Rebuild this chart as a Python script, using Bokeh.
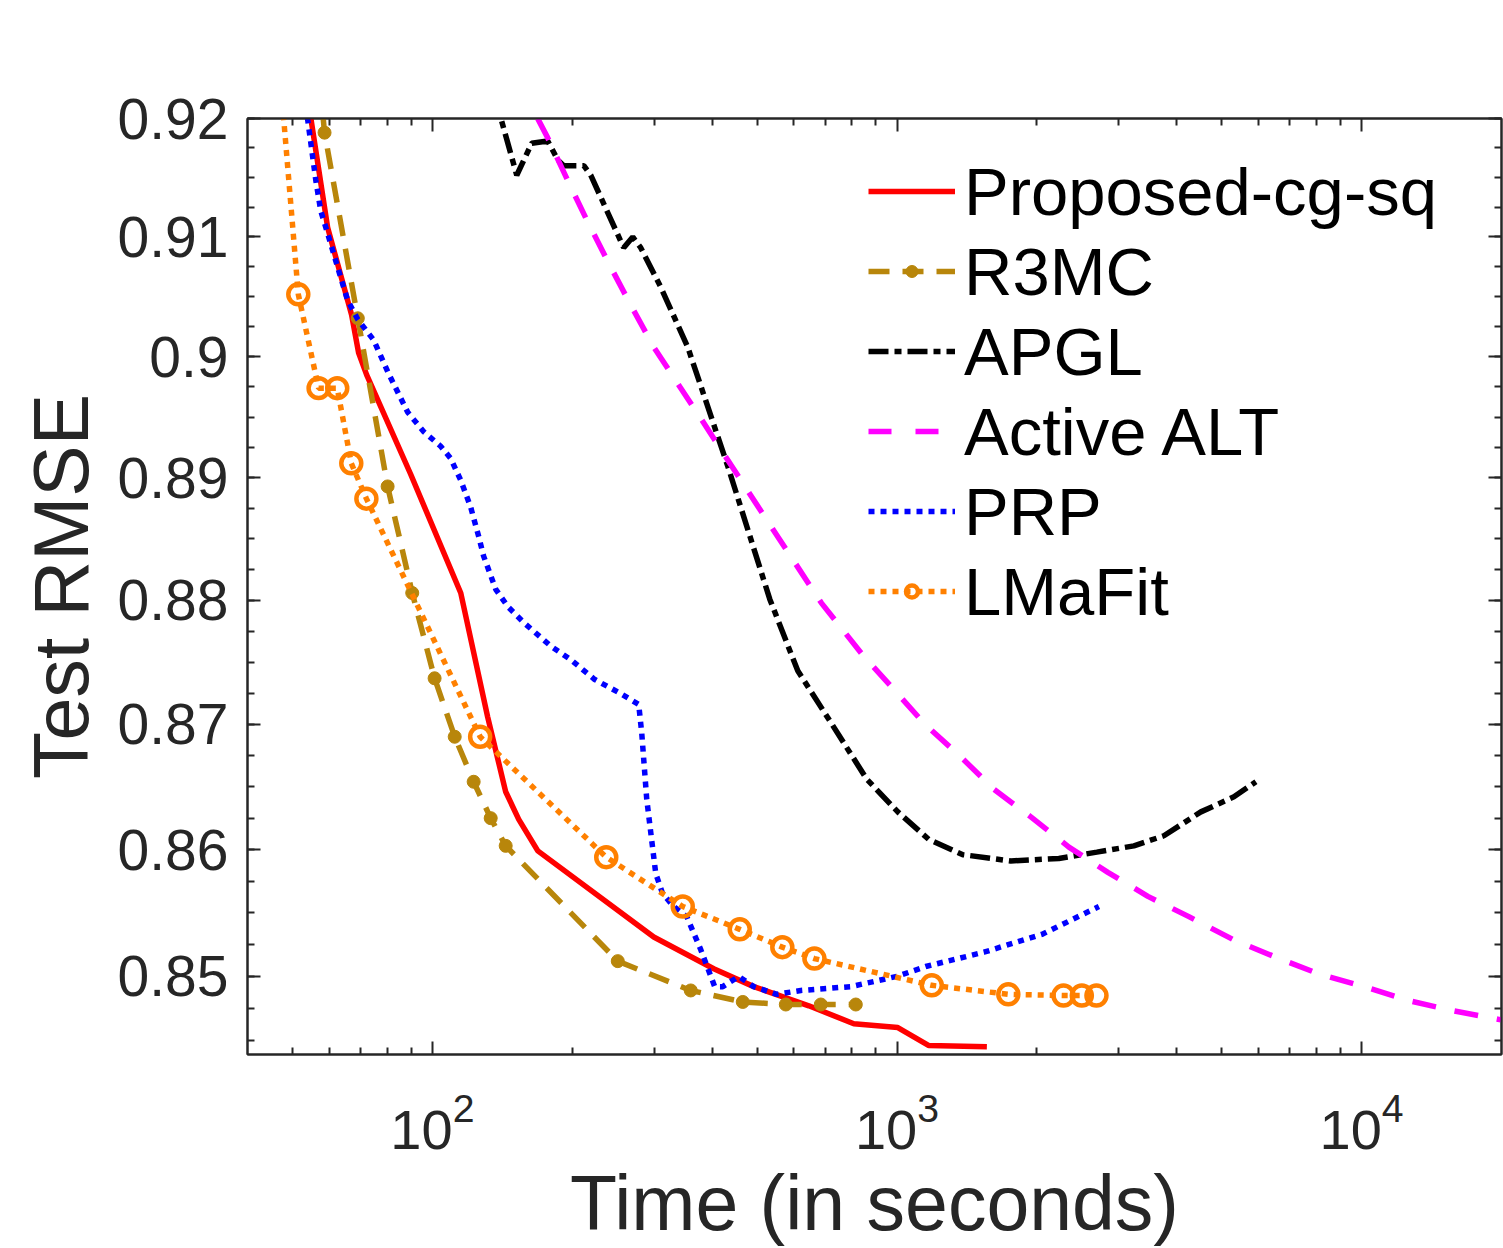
from bokeh.plotting import figure
from bokeh.models import FixedTicker, LogAxis, CustomJSTickFormatter, Range1d
from bokeh.embed import file_html
from bokeh.resources import INLINE

# ---------------- data ----------------
prop_t = [53.6, 59.5, 67.0, 69.4, 72.2, 89.8, 115.1, 131.5, 143.8, 153.4, 168.6,
          299.5, 403.2, 491.7, 645.9, 807.2, 1004, 1171, 1561]
prop_v = [0.9224, 0.9108, 0.9035, 0.9003, 0.8985, 0.8903, 0.8806, 0.8706, 0.8646,
          0.8624, 0.8599, 0.8531, 0.8506, 0.8492, 0.8477, 0.8463, 0.8460, 0.8446, 0.8445]

r3mc_t = [57.2, 58.6, 69.1, 80.1, 90.5, 101.1, 111.7, 122.7, 133.5, 143.8, 250.6,
          359.8, 465.6, 576.3, 685.5, 815.3]
r3mc_v = [0.9232, 0.9188, 0.9032, 0.8893, 0.8806, 0.8737, 0.8690, 0.8654, 0.8625,
          0.8603, 0.8512, 0.8489, 0.8480, 0.8478, 0.8478, 0.8478]

apgl_t = [136.2, 151.9, 163.6, 177.1, 186.1, 191.7, 211.8, 219.2, 258.1, 269.9, 280.8,
          310.1, 354.5, 434.5, 532.3, 611.5, 713.2, 861, 1004, 1171, 1386, 1758, 2230,
          2692, 3235, 3753, 4508, 5311, 5922]
apgl_v = [0.9219, 0.9152, 0.9179, 0.9181, 0.9165, 0.9160, 0.9160, 0.9152, 0.9091, 0.9100,
          0.9091, 0.9058, 0.9008, 0.8907, 0.8801, 0.8743, 0.8704, 0.8656, 0.8630, 0.8608,
          0.8596, 0.8591, 0.8593, 0.8598, 0.8603, 0.8611, 0.8630, 0.8642, 0.8654]

alt_t = [159.6, 176.9, 195.3, 215.7, 239.6, 267.3, 299.5, 378.1, 509.1, 687.1, 847.1,
         984.3, 1148, 1362, 1616, 1941, 2344, 2843, 3467, 4248, 5284, 6540, 8092,
         10116, 12642, 15800, 19950]
alt_v = [0.9218, 0.9184, 0.9148, 0.9113, 0.9078, 0.9043, 0.9008, 0.8949, 0.8873, 0.8798,
         0.8755, 0.8728, 0.8700, 0.8675, 0.8648, 0.8626, 0.8602, 0.8582, 0.8563, 0.8547,
         0.8529, 0.8515, 0.8502, 0.8492, 0.8481, 0.8473, 0.8466]

prp_t = [53.4, 56.1, 57.5, 59.5, 63.5, 65.7, 69.1, 74.7, 80.5, 88.5, 95.8, 104.2, 109.5,
         115.1, 120.9, 125.8, 128.9, 136.9, 145.3, 157.3, 179.8, 198.5, 223.6, 250.6,
         278.0, 282.2, 289.3, 302.5, 313.1, 330.7, 352.8, 378.1, 405.2, 421.7, 456.5,
         491.7, 551.1, 620.8, 795.2, 999, 1159, 1538, 2049, 2720]
prp_v = [0.9211, 0.9148, 0.9122, 0.9103, 0.9066, 0.9047, 0.9031, 0.9014, 0.8986, 0.8954,
         0.8938, 0.8926, 0.8916, 0.8898, 0.8876, 0.8852, 0.8836, 0.8809, 0.8795, 0.8782,
         0.8763, 0.8752, 0.8736, 0.8726, 0.8716, 0.8693, 0.8640, 0.8581, 0.8565, 0.8555,
         0.8547, 0.8521, 0.8492, 0.8492, 0.8500, 0.8492, 0.8486, 0.8489, 0.8492, 0.8500,
         0.8508, 0.8519, 0.8533, 0.8555]

lmafit_t = [47.3, 51.45, 56.9, 62.4, 66.9, 72.1, 126.7, 236.7, 345.8, 458.7, 566.4,
            664.1, 1188, 1736, 2282, 2499, 2687]
lmafit_v = [0.9224, 0.9052, 0.8974, 0.8974, 0.8912, 0.8883, 0.8690, 0.8594, 0.8555,
            0.8537, 0.8523, 0.8514, 0.8493, 0.8486, 0.8485, 0.8485, 0.8485]

x_major = [100, 1000, 10000]
x_minor = [50, 60, 70, 80, 90, 200, 300, 400, 500, 600, 700, 800, 900,
           2000, 3000, 4000, 5000, 6000, 7000, 8000, 9000]
y_major = [0.85, 0.86, 0.87, 0.88, 0.89, 0.90, 0.91, 0.92]
y_minor = [0.845 + 0.0025 * i for i in range(31)]

# ---------------- styling ----------------
FONT = "Liberation Sans"
AXC = "#262626"
LW = 5.5

p = figure(width=1503, height=1248, x_axis_type="log", y_axis_type="log",
           x_range=Range1d(40, 20000), y_range=Range1d(0.8439, 0.92),
           output_backend="svg", toolbar_location=None,
           min_border_left=247, min_border_top=118, min_border_right=2,
           min_border_bottom=193)
p.grid.visible = False
p.outline_line_color = AXC
p.outline_line_width = 2
p.background_fill_color = "white"
p.border_fill_color = "white"

p.line(prop_t, prop_v, color="#FF0000", line_width=LW, legend_label="Proposed-cg-sq")
p.line(r3mc_t, r3mc_v, color="#B8860B", line_width=LW, line_dash="21 13",
       legend_label="R3MC")
p.scatter(r3mc_t, r3mc_v, marker="circle", size=13, color="#B8860B", legend_label="R3MC")
p.line(apgl_t, apgl_v, color="black", line_width=LW, line_dash="20 6 7 6",
       legend_label="APGL")
p.line(alt_t, alt_v, color="#FF00FF", line_width=LW, line_dash="24 19",
       line_dash_offset=19)
# legend swatch for Active ALT (single off-chart point: draws nothing in the plot)
p.line(alt_t[:1], alt_v[:1], color="#FF00FF", line_width=LW, line_dash="23 24",
       legend_label="Active ALT")
p.line(prp_t, prp_v, color="#0000FF", line_width=LW, line_dash="6 6", legend_label="PRP")
p.line(lmafit_t, lmafit_v, color="#FF8000", line_width=LW, line_dash="6 6",
       legend_label="LMaFit")
p.scatter(lmafit_t, lmafit_v, marker="circle", size=20, fill_color=None,
          line_color="#FF8000", line_width=4.5, legend_label="LMaFit")

xt = FixedTicker(ticks=x_major, minor_ticks=x_minor)
yt = FixedTicker(ticks=y_major, minor_ticks=y_minor)


def style_axis(ax):
    ax.axis_line_color = AXC
    ax.axis_line_width = 2
    ax.major_tick_line_color = AXC
    ax.minor_tick_line_color = AXC
    ax.major_tick_line_width = 2
    ax.minor_tick_line_width = 2
    ax.major_tick_in = 13
    ax.major_tick_out = 0
    ax.minor_tick_in = 7
    ax.minor_tick_out = 0
    ax.major_label_text_color = AXC
    ax.major_label_text_font = FONT


xa = p.xaxis[0]
xa.ticker = xt
style_axis(xa)
xa.major_label_text_font_size = "56px"
xa.major_label_standoff = 38
xa.axis_label = "Time (in seconds)"
xa.axis_label_text_font = FONT
xa.axis_label_text_font_size = "77px"
xa.axis_label_text_font_style = "normal"
xa.axis_label_text_color = AXC
xa.axis_label_standoff = 8

ya = p.yaxis[0]
ya.ticker = yt
style_axis(ya)
ya.formatter = CustomJSTickFormatter(code="return (Math.round(tick*100)/100).toString();")
ya.major_label_text_font_size = "57px"
ya.major_label_standoff = 19
ya.axis_label = "Test RMSE"
ya.axis_label_text_font = FONT
ya.axis_label_text_font_size = "77px"
ya.axis_label_text_font_style = "normal"
ya.axis_label_text_color = AXC
ya.axis_label_standoff = 11

blank = CustomJSTickFormatter(code="return '';")
top = LogAxis(ticker=xt, formatter=blank)
style_axis(top)
top.major_label_text_font_size = "0px"
top.major_label_standoff = 0
p.add_layout(top, "above")
right = LogAxis(ticker=yt, formatter=blank)
style_axis(right)
right.major_label_text_font_size = "0px"
right.major_label_standoff = 0
p.add_layout(right, "right")

lg = p.legend[0]
lg.location = (621, 423)
lg.padding = 0
lg.margin = 0
lg.spacing = 0
lg.label_height = 80
lg.glyph_height = 30
lg.glyph_width = 87
lg.label_standoff = 9
lg.label_text_font = FONT
lg.label_text_font_size = "67px"
lg.label_text_color = "black"
lg.border_line_color = None
lg.background_fill_alpha = 0

open("out.html", "w").write(file_html(p, INLINE))
